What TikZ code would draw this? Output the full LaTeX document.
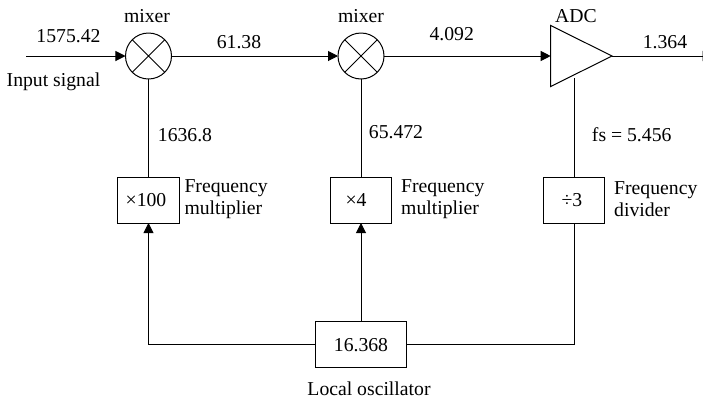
\documentclass[tikz,border=0pt]{standalone}
\usepackage{fontspec}
\setmainfont{Liberation Serif}
\usepackage{tikz}
\usetikzlibrary{positioning,arrows.meta,shapes.geometric,calc}
\tikzset{
  mixer/.style={circle,draw=black,line width=1pt,minimum size=46pt,inner sep=0pt,outer sep=0pt,
    path picture={\draw[line width=1pt] (path picture bounding box.north west) -- (path picture bounding box.south east)
      (path picture bounding box.north east) -- (path picture bounding box.south west);}},
  blockbox/.style={rectangle,draw=black,line width=1pt,minimum width=61.5pt,minimum height=46pt,inner sep=0pt,outer sep=0pt},
  adcamp/.style={isosceles triangle,isosceles triangle stretches,draw=black,line width=1pt,minimum width=61pt,minimum height=61.3pt,inner sep=0pt,outer sep=0pt},
  lbl/.style={anchor=base,inner sep=0pt},
  sideline/.style={anchor=base west,inner sep=0pt,align=left},
  sigline/.style={line width=1pt,black},
  sigedge/.style={-{Triangle[length=10pt,width=10pt]},line width=1pt,black}
}
\begin{document}
\begin{tikzpicture}[x=1pt,y=1pt,font=\fontsize{19.7}{22}\selectfont]
  \useasboundingbox (-148.5,56) rectangle (554.5,-344);
  \node[mixer] (mixa) at (0,0) {};
  \node[mixer,right=166.5pt of mixa] (mixb) {};
  \node[adcamp,anchor=lower side] (adc) at (402.2,0) {};
  \node[blockbox,below=98pt of mixa] (mula) {×100\kern5pt};
  \node[blockbox,below=98pt of mixb] (mulb) {×4\kern10pt};
  \coordinate (adcin) at ($(adc.lower side)+(23.3,-22.3)$);
  \node[blockbox,below=98.7pt of adcin] (div) {÷3\kern4pt};
  \node[blockbox,below=98.7pt of mulb,minimum width=91.4pt] (osc) {16.368};
  \coordinate (insig) at (-122,0);
  \coordinate (outsig) at (564,0);
  % signal path
  \draw[sigedge] (insig) -- (mixa);
  \draw[sigedge] (mixa) -- (mixb);
  \draw[sigedge] (mixb) -- (adc.lower side);
  \draw[sigedge] (adc.apex) -- (outsig);
  \draw[sigline] (mula) -- (mixa);
  \draw[sigline] (mulb) -- (mixb);
  \draw[sigline] (div) -- (adcin);
  % oscillator feeds
  \draw[sigedge] (osc) -| (mula);
  \draw[sigedge] (osc) -- (mulb);
  \draw[sigline] (osc) -| (div);
  % labels
  \node[lbl] (mixatxt) at (-1.5,34) {mixer};
  \node[lbl] (mixbtxt) at (212.5,34) {mixer};
  \node[lbl] (adctxt) at (427.5,34) {ADC};
  \node[lbl] (rftxt) at (-80,14) {1575.42};
  \node[lbl] (intxt) at (-95,-30) {Input signal};
  \node[lbl] (iftxt) at (90.5,7.3) {61.38};
  \node[lbl] (iibtxt) at (303.2,15.3) {4.092};
  \node[lbl] (outtxt) at (516.5,7.3) {1.364};
  \node[lbl] (lotxt) at (36.5,-85) {1636.8};
  \node[lbl] (lobtxt) at (247.5,-82.7) {65.472};
  \node[lbl] (fstxt) at (483.2,-85) {fs = 5.456};
  \node[sideline] (multxt) at (35.8,-158) {Frequency\\multiplier};
  \node[sideline] (mulbtxt) at (252.5,-158) {Frequency\\multiplier};
  \node[sideline] (divtxt) at (465.5,-160.7) {Frequency\\divider};
  \node[lbl] (osctxt) at (220.5,-339.7) {Local oscillator};
\end{tikzpicture}
\end{document}
